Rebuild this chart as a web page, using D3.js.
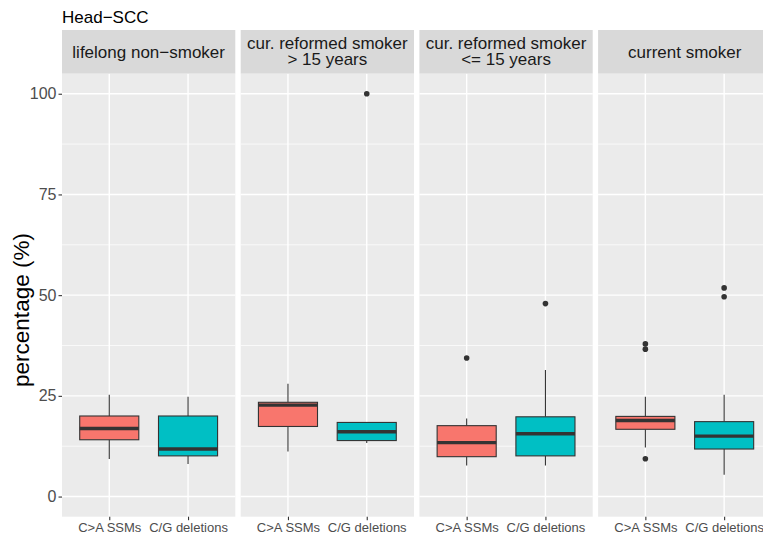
<!DOCTYPE html>
<html>
<head>
<meta charset="utf-8">
<script src="https://cdn.jsdelivr.net/npm/d3@7"></script>
<style>
  body { margin: 0; background: #ffffff; }
  text { font-family: "Liberation Sans", Arial, sans-serif; }
</style>
</head>
<body>
<svg id="chart" width="763" height="539"></svg>
<script>
// Facets (smoking status) and the two mutation classes in each facet
const groups = ["lifelong non−smoker", "cur. reformed smoker\n> 15 years", "cur. reformed smoker\n<= 15 years", "current smoker"];
const categories = ["C>A SSMs", "C/G deletions"];

// Box statistics per facet, [C>A SSMs, C/G deletions], in percent
const lowerWhisker = [[9.3, 8.1], [11.2, 13.3], [7.7, 7.7], [12.2, 5.4]];
const q1           = [[14.1, 10.1], [17.4, 13.9], [9.9, 10.1], [16.7, 11.8]];
const median       = [[16.9, 11.8], [22.7, 16.1], [13.4, 15.6], [18.9, 15.0]];
const q3           = [[20.0, 20.0], [23.4, 18.4], [17.6, 19.8], [19.9, 18.6]];
const upperWhisker = [[25.3, 24.8], [28.0, 18.4], [19.4, 31.4], [24.8, 25.3]];
const outliers     = [[[], []], [[], [100]], [[34.4], [47.9]], [[37.9, 36.6, 9.4], [51.8, 49.6]]];

const yTicks = [0, 25, 50, 75, 100];
const yMinor = [12.5, 37.5, 62.5, 87.5];
const fills = ["#F8766D", "#00BFC4"];

const svg = d3.select("#chart");

const panelLeft = 62, panelWidth = 173.3, panelGap = 5.4;
const panelTop = 73.6, panelBottom = 516.7;
const stripTop = 30;

const y = d3.scaleLinear().domain([-5, 105]).range([panelBottom, panelTop]);

// Title
svg.append("text")
  .attr("x", 62).attr("y", 23)
  .attr("font-size", 17).attr("fill", "#000")
  .text("Head−SCC");

// Y axis title
svg.append("text")
  .attr("transform", "translate(29,310) rotate(-90)")
  .attr("text-anchor", "middle")
  .attr("font-size", 22.5).attr("fill", "#000")
  .text("percentage (%)");

groups.forEach((g, gi) => {
  const x0 = panelLeft + gi * (panelWidth + panelGap);
  const x = d3.scalePoint().domain(categories).range([x0, x0 + panelWidth]).padding(0.6);
  const boxW = x.step() * 0.75;

  const panel = svg.append("g");

  // panel background
  panel.append("rect")
    .attr("x", x0).attr("y", panelTop)
    .attr("width", panelWidth).attr("height", panelBottom - panelTop)
    .attr("fill", "#EBEBEB");

  // grid
  panel.selectAll(".minor").data(yMinor).enter().append("line")
    .attr("x1", x0).attr("x2", x0 + panelWidth)
    .attr("y1", d => y(d)).attr("y2", d => y(d))
    .attr("stroke", "#ffffff").attr("stroke-width", 0.7);
  panel.selectAll(".major").data(yTicks).enter().append("line")
    .attr("x1", x0).attr("x2", x0 + panelWidth)
    .attr("y1", d => y(d)).attr("y2", d => y(d))
    .attr("stroke", "#ffffff").attr("stroke-width", 1.4);
  panel.selectAll(".vmajor").data(categories).enter().append("line")
    .attr("x1", d => x(d)).attr("x2", d => x(d))
    .attr("y1", panelTop).attr("y2", panelBottom)
    .attr("stroke", "#ffffff").attr("stroke-width", 1.4);

  // strip
  panel.append("rect")
    .attr("x", x0).attr("y", stripTop)
    .attr("width", panelWidth).attr("height", panelTop - stripTop)
    .attr("fill", "#D9D9D9");
  const lines = g.split("\n");
  const st = panel.append("text")
    .attr("text-anchor", "middle")
    .attr("font-size", 17).attr("fill", "#1A1A1A");
  const baselines = lines.length === 1 ? [58] : [48.5, 65];
  lines.forEach((ln, li) => {
    st.append("tspan").attr("x", x0 + panelWidth / 2).attr("y", baselines[li]).text(ln);
  });

  // boxes
  categories.forEach((c, ci) => {
    const cx = x(c);
    // whiskers
    panel.append("line")
      .attr("x1", cx).attr("x2", cx)
      .attr("y1", y(q3[gi][ci])).attr("y2", y(upperWhisker[gi][ci]))
      .attr("stroke", "#333333").attr("stroke-width", 1.1);
    panel.append("line")
      .attr("x1", cx).attr("x2", cx)
      .attr("y1", y(q1[gi][ci])).attr("y2", y(lowerWhisker[gi][ci]))
      .attr("stroke", "#333333").attr("stroke-width", 1.1);
    // box
    panel.append("rect")
      .attr("x", cx - boxW / 2).attr("width", boxW)
      .attr("y", y(q3[gi][ci])).attr("height", y(q1[gi][ci]) - y(q3[gi][ci]))
      .attr("fill", fills[ci]).attr("stroke", "#333333").attr("stroke-width", 1.1);
    // median
    panel.append("line")
      .attr("x1", cx - boxW / 2).attr("x2", cx + boxW / 2)
      .attr("y1", y(median[gi][ci])).attr("y2", y(median[gi][ci]))
      .attr("stroke", "#333333").attr("stroke-width", 3.4);
    // outliers
    panel.selectAll(null).data(outliers[gi][ci]).enter().append("circle")
      .attr("cx", cx).attr("cy", d => y(d)).attr("r", 2.8)
      .attr("fill", "#333333");
  });

  // x axis ticks and labels
  const xAxis = d3.axisBottom(x).tickSize(3.5).tickPadding(2);
  const gx = svg.append("g").attr("transform", `translate(0,${panelBottom})`).call(xAxis);
  gx.select(".domain").remove();
  gx.selectAll(".tick line").attr("stroke", "#333333").attr("stroke-width", 1.1);
  gx.selectAll(".tick text")
    .attr("font-size", 13).attr("fill", "#4D4D4D")
    .attr("font-family", "'Liberation Sans', Arial, sans-serif")
    .attr("dy", null).attr("y", 15);
});

// y axis on the first panel
const yAxis = d3.axisLeft(y).tickValues(yTicks).tickSize(3.5).tickPadding(2);
const gy = svg.append("g").attr("transform", `translate(${panelLeft},0)`).call(yAxis);
gy.select(".domain").remove();
gy.selectAll(".tick line").attr("stroke", "#333333").attr("stroke-width", 1.1);
gy.selectAll(".tick text")
  .attr("font-size", 16).attr("fill", "#4D4D4D")
  .attr("font-family", "'Liberation Sans', Arial, sans-serif");
</script>
</body>
</html>
